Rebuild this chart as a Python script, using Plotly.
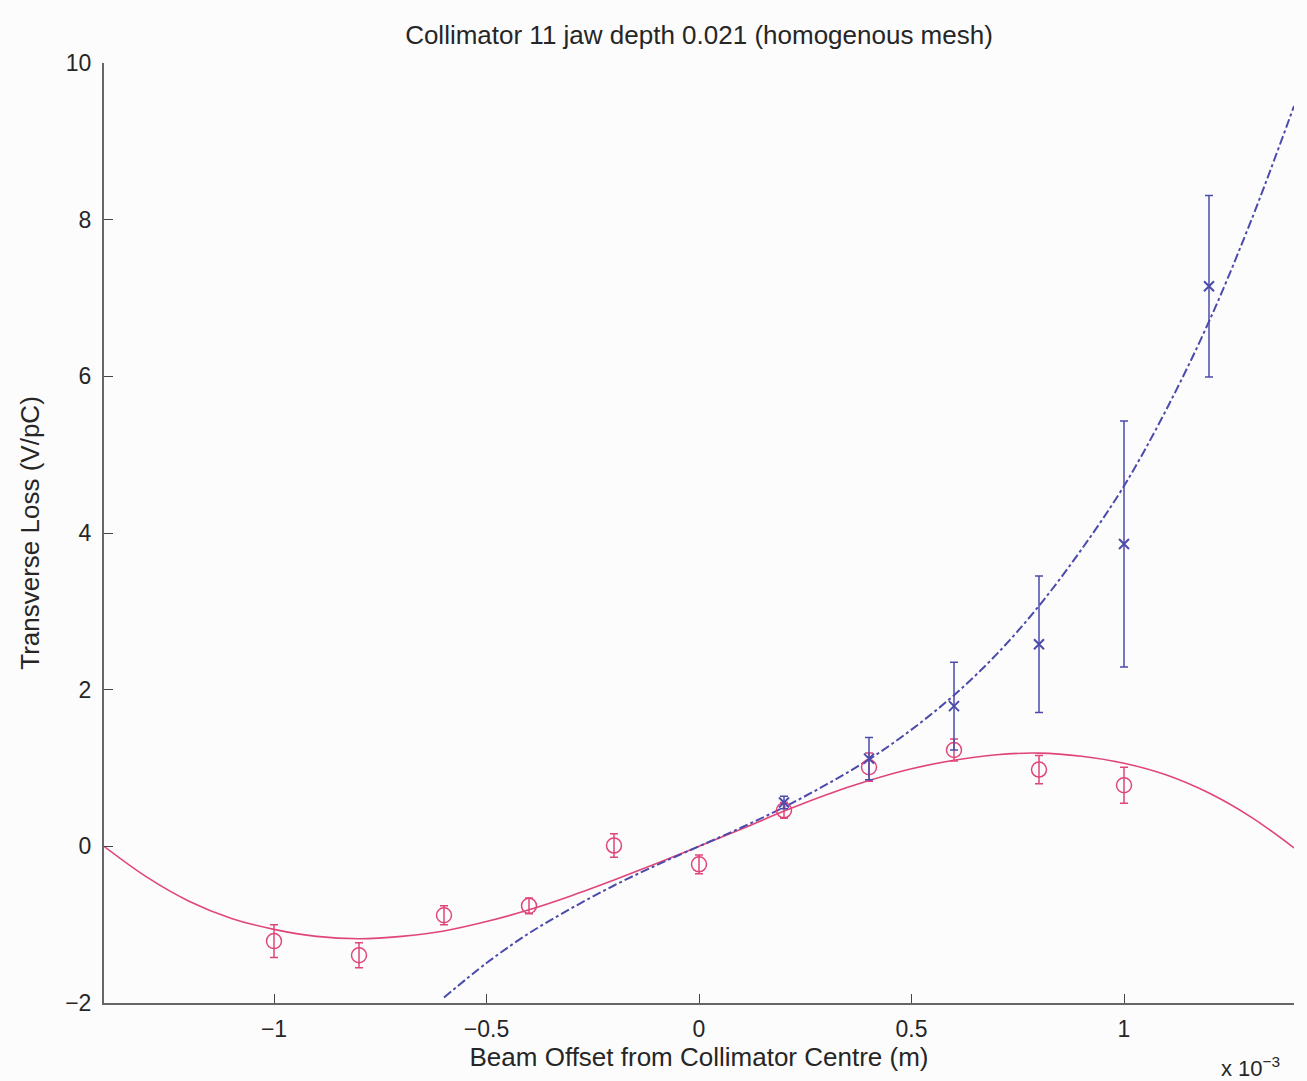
import plotly.graph_objects as go

# Beam offset in units of 1e-3 m
x_red = [-1.0, -0.8, -0.6, -0.4, -0.2, 0.0, 0.2, 0.4, 0.6, 0.8, 1.0]
y_red = [-1.21, -1.39, -0.88, -0.76, 0.01, -0.23, 0.46, 1.01, 1.23, 0.98, 0.78]
e_red = [0.21, 0.16, 0.12, 0.10, 0.15, 0.12, 0.10, 0.18, 0.14, 0.18, 0.23]

x_blue = [0.2, 0.4, 0.6, 0.8, 1.0, 1.2]
y_blue = [0.56, 1.12, 1.79, 2.58, 3.86, 7.15]
e_blue = [0.08, 0.27, 0.56, 0.87, 1.57, 1.16]

# fitted curves
x_red_fit = [-1.4, -1.3, -1.2, -1.1, -1.0, -0.9, -0.8, -0.7, -0.6, -0.5, -0.4, -0.3, -0.2, -0.1,
             0.0, 0.1, 0.2, 0.3, 0.4, 0.5, 0.6, 0.7, 0.8, 0.9, 1.0, 1.1, 1.2, 1.3, 1.4]
y_red_fit = [0.0, -0.39, -0.70, -0.92, -1.06, -1.15, -1.18, -1.15, -1.08, -0.96, -0.81, -0.63, -0.43, -0.22,
             0.0, 0.22, 0.45, 0.66, 0.84, 0.99, 1.10, 1.17, 1.19, 1.15, 1.06, 0.91, 0.68, 0.37, -0.02]

x_blue_fit = [-0.6, -0.5, -0.4, -0.3, -0.2, -0.1, 0.0, 0.1, 0.2, 0.3, 0.4, 0.5, 0.6, 0.7,
              0.8, 0.9, 1.0, 1.1, 1.2, 1.3, 1.4]
y_blue_fit = [-1.93, -1.49, -1.11, -0.79, -0.50, -0.24, 0.0, 0.24, 0.50, 0.79, 1.11, 1.49, 1.93, 2.45,
              3.07, 3.79, 4.60, 5.58, 6.70, 8.00, 9.45]

x_ticks = [-1, -0.5, 0, 0.5, 1]
x_tick_text = ["\u22121", "\u22120.5", "0", "0.5", "1"]
y_ticks = [-2, 0, 2, 4, 6, 8, 10]

RED = "#e0457a"
BLUE = "#4b4bab"
FONT = "Liberation Sans"
TXT = "#262626"

fig = go.Figure()
fig.add_trace(go.Scatter(x=x_red_fit, y=y_red_fit, mode="lines", line=dict(color=RED, width=1.6, shape="spline"),
                         hoverinfo="skip", showlegend=False))
fig.add_trace(go.Scatter(x=x_blue_fit, y=y_blue_fit, mode="lines",
                         line=dict(color=BLUE, width=2, dash="dashdot", shape="spline"),
                         hoverinfo="skip", showlegend=False))
fig.add_trace(go.Scatter(x=x_red, y=y_red, mode="markers",
                         marker=dict(symbol="circle-open", size=15, color=RED, line=dict(width=1.5, color=RED)),
                         error_y=dict(type="data", array=e_red, color=RED, thickness=1.5, width=4),
                         showlegend=False))
fig.add_trace(go.Scatter(x=x_blue, y=y_blue, mode="markers",
                         marker=dict(symbol="x-thin-open", size=10, color=BLUE, line=dict(width=2, color=BLUE)),
                         error_y=dict(type="data", array=e_blue, color=BLUE, thickness=1.5, width=4),
                         showlegend=False))

fig.update_layout(
    width=1307, height=1081,
    margin=dict(l=104, r=13, t=63, b=78),
    paper_bgcolor="#fcfcfc", plot_bgcolor="#fcfcfc",
    font=dict(family=FONT, size=23, color=TXT),
    title=dict(text="Collimator 11 jaw depth 0.021 (homogenous mesh)", x=0.5, xref="paper",
               y=1 - 35 / 1081, yref="container", yanchor="middle", xanchor="center",
               font=dict(family=FONT, size=26, color=TXT)),
    xaxis=dict(range=[-1.4, 1.4], tickvals=x_ticks, ticktext=x_tick_text, showgrid=False, zeroline=False,
               showline=True, linecolor="#666666", linewidth=2, ticks="inside", ticklen=9,
               tickcolor="#444444", tickwidth=1.2, ticklabelstandoff=4,
               tickfont=dict(family=FONT, size=23, color=TXT),
               title=dict(text="Beam Offset from Collimator Centre (m)", standoff=2,
                          font=dict(family=FONT, size=26, color=TXT))),
    yaxis=dict(range=[-2, 10], tickvals=y_ticks, showgrid=False, zeroline=False,
               showline=True, linecolor="#666666", linewidth=2, ticks="inside", ticklen=9,
               tickcolor="#444444", tickwidth=1.2, ticklabelstandoff=6,
               tickfont=dict(family=FONT, size=23, color=TXT),
               title=dict(text="Transverse Loss (V/pC)", standoff=18,
                          font=dict(family=FONT, size=26, color=TXT))),
    annotations=[dict(text="x 10<sup>\u22123</sup>", xref="paper", yref="paper", x=1.0, y=0,
                      xanchor="right", yanchor="middle", yshift=-64, xshift=-12, showarrow=False,
                      font=dict(family=FONT, size=22, color=TXT))],
)

fig.write_html("out.html")
